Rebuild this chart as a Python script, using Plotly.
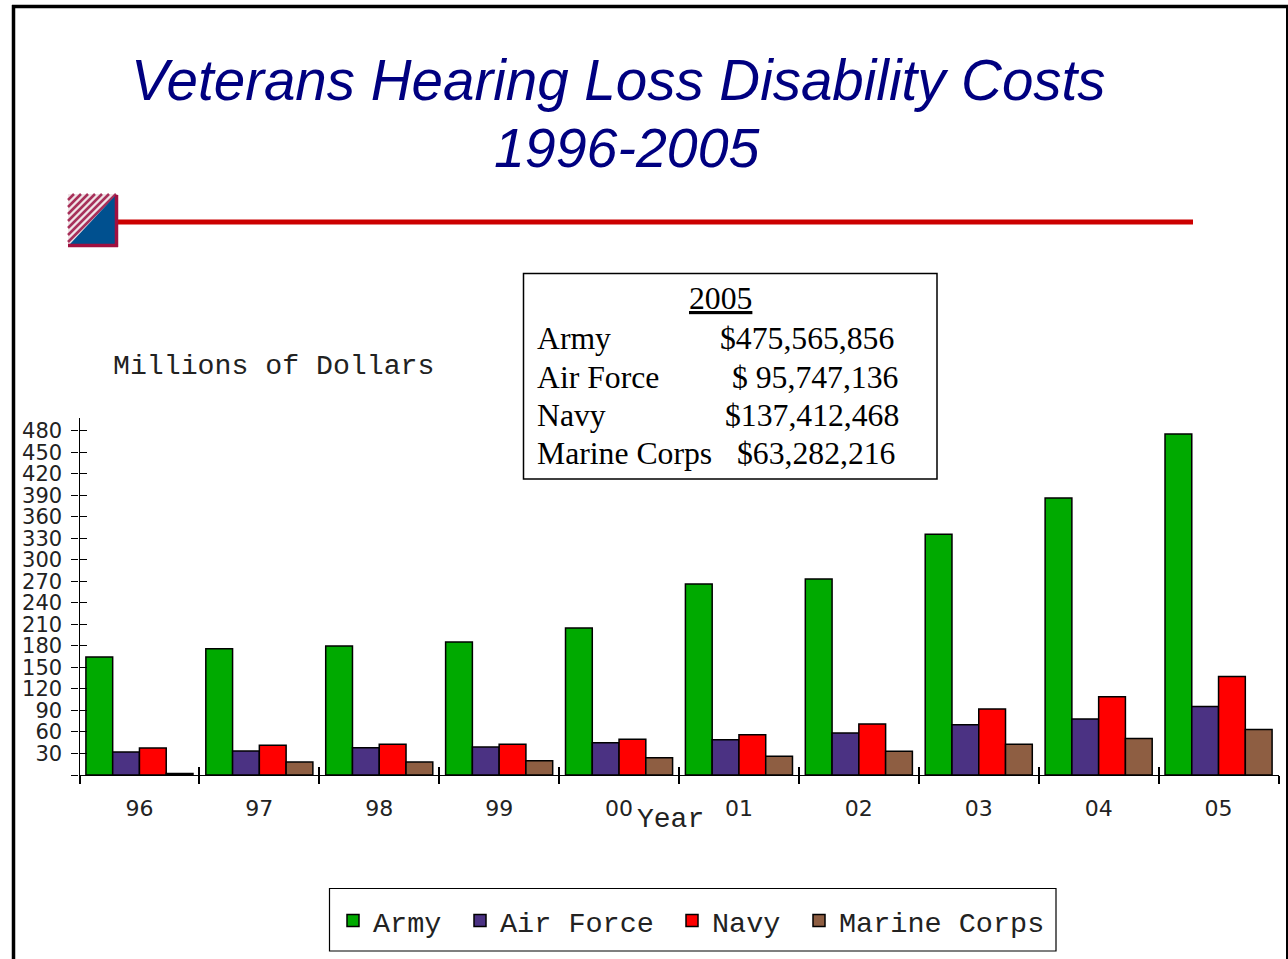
import plotly.graph_objects as go

W, H = 1288, 959
years = ["96", "97", "98", "99", "00", "01", "02", "03", "04", "05"]
army = [164.5, 176, 180, 185.5, 205, 266.5, 273.5, 336, 386.5, 475.6]
air_force = [32, 33.5, 38, 39, 45, 49, 58.5, 70, 78, 95.7]
navy = [37.5, 41.5, 43, 43, 50, 56, 71, 92, 109, 137.4]
marine = [2, 18, 18, 20, 24, 26, 33, 43, 51, 63.3]
names = ["Army", "Air Force", "Navy", "Marine Corps"]
colors = ["#00AA00", "#4B3283", "#FF0000", "#8E5E42"]
y_ticks = [0, 30, 60, 90, 120, 150, 180, 210, 240, 270, 300, 330, 360, 390, 420, 450, 480]
y_labels = [""] + [str(v) for v in y_ticks[1:]]
table_head = "2005"
table_names = ["Army", "Air Force", "Navy", "Marine Corps"]
table_vals = ["$475,565,856", "$ 95,747,136", "$137,412,468", "$63,282,216"]
table_val_x = [718, 730, 723, 735]
table_y = [338.5, 377.5, 415.5, 453.5]
legend_x = [333, 460, 672, 799]

TICK = "DejaVu Sans"
MONO = "Liberation Mono"
SERIF = "Liberation Serif"
px = lambda v: v / W
py = lambda v: 1 - v / H

fig = go.Figure()
legend_ids = ["legend", "legend2", "legend3", "legend4"]
for n, c, vals, lid in zip(names, colors, [army, air_force, navy, marine], legend_ids):
    fig.add_bar(x=years, y=vals, name=n, legend=lid, marker=dict(color=c, line=dict(color="black", width=1.5)))
fig.add_scatter(x=years, y=army, mode="none", xaxis="x2", yaxis="y2", showlegend=False, hoverinfo="skip")

xcommon = dict(type="category", categoryorder="array", categoryarray=years, range=[-0.5, 9.5],
               domain=[px(79.5), px(1278.5)], showgrid=False, zeroline=False, tickson="boundaries",
               ticklen=8, tickwidth=1.5, tickcolor="black")
ycommon = dict(range=[0, 498], domain=[py(775), py(418)], showgrid=False, zeroline=False,
               tickmode="array", tickvals=y_ticks, ticklen=7, tickwidth=1.2, tickcolor="black")
fig.update_layout(
    width=W, height=H, autosize=False, margin=dict(l=0, r=0, t=0, b=0),
    paper_bgcolor="white", plot_bgcolor="rgba(0,0,0,0)", barmode="group", bargap=0.107, bargroupgap=0,
    xaxis=dict(**xcommon, ticks="outside", showline=True, linecolor="black", linewidth=1.2,
               tickfont=dict(family=TICK, size=22, color="#222"), ticklabelstandoff=13),
    xaxis2=dict(**xcommon, ticks="inside", overlaying="x", anchor="y2", showticklabels=False),
    yaxis=dict(**ycommon, ticks="outside", showline=True, linecolor="black", linewidth=1.2,
               ticktext=y_labels, tickfont=dict(family=TICK, size=21, color="#222"), ticklabelstandoff=5),
    yaxis2=dict(**ycommon, ticks="inside", overlaying="y", anchor="x2", showticklabels=False),
    showlegend=True,
)
for lid, lx in zip(legend_ids, legend_x):
    fig.update_layout({lid: dict(orientation="h", x=px(lx), y=py(921), xanchor="left", yanchor="middle",
                                 font=dict(family=MONO, size=28.5, color="#222"), bgcolor="rgba(0,0,0,0)",
                                 itemclick=False, itemdoubleclick=False)})

def note(x, y, text, font, size, color="black", anchor="center"):
    fig.add_annotation(xref="paper", yref="paper", x=px(x), y=py(y), text=text, showarrow=False,
                       xanchor=anchor, yanchor="middle", font=dict(family=font, size=size, color=color))

NAVY = "#000080"
note(618, 80, "<i>Veterans Hearing Loss Disability Costs</i>", "Liberation Sans", 56.5, NAVY)
note(627, 148, "<i>1996-2005</i>", "Liberation Sans", 55.5, NAVY)
note(273, 366, "Millions of Dollars", MONO, 28.2, "#222")
note(670, 819, "Year", MONO, 28, "#222")
note(720.5, 298.5, "<u>" + table_head + "</u>", SERIF, 31.7)
for nm, val, vx, ty in zip(table_names, table_vals, table_val_x, table_y):
    note(534.5, ty, nm, SERIF, 31.7, anchor="left")
    note(vx, ty, val, SERIF, 31.7, anchor="left")

def rect(x0, y0, x1, y1, line="black", width=1.5, fill=None):
    fig.add_shape(type="rect", xref="paper", yref="paper", x0=px(x0), x1=px(x1), y0=py(y0), y1=py(y1),
                  line=dict(color=line, width=width), fillcolor=fill, layer="below")

def seg(x0, y0, x1, y1, color, width):
    fig.add_shape(type="line", xref="paper", yref="paper", x0=px(x0), x1=px(x1), y0=py(y0), y1=py(y1),
                  line=dict(color=color, width=width), layer="below")

# page frame
seg(12, 6.5, 1288, 6.5, "black", 3.5)
seg(13.5, 5, 13.5, 959, "black", 3.5)
seg(1287, 5, 1287, 959, "black", 2)
# boxes
rect(523.5, 273.5, 937, 479)
rect(329.5, 888.5, 1056, 951, width=1.2)
# rule and emblem
seg(116, 222, 1193, 222, "#CC0000", 5)
rect(68, 194, 118, 247, line="rgba(0,0,0,0)", width=0, fill="#EFE3E6")
for k in range(7):
    off = 6 + k * 7
    seg(68, 194 + off, 68 + off, 194, "#A8305A", 2.5)
fig.add_shape(type="path", xref="paper", yref="paper", layer="below", line=dict(width=0), fillcolor="#00508F",
              path=f"M {px(115)},{py(196)} L {px(115)},{py(244)} L {px(70)},{py(244)} Z")
seg(116.5, 195, 116.5, 247, "#A01040", 3.5)
seg(68, 245.5, 118, 245.5, "#A01040", 3.5)

fig.write_html("out.html", config={"displayModeBar": False},
               post_script="document.body.style.margin='0';document.body.style.overflow='hidden';")
